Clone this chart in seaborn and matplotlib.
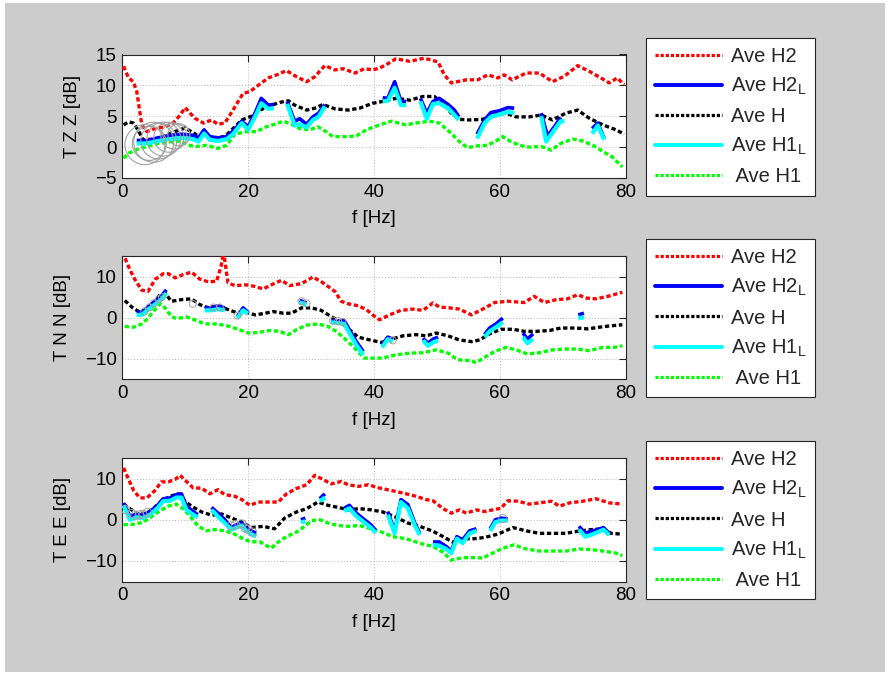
import numpy as np
import pandas as pd
import matplotlib
matplotlib.use("Agg")
import matplotlib.pyplot as plt
import seaborn as sns
from matplotlib.lines import Line2D
from matplotlib.patches import Rectangle

# ---------------- data ----------------
F_TICKS = [0, 20, 40, 60, 80]
ZZ_YTICKS = [-5, 0, 5, 10, 15]
NE_YTICKS = [-10, 0, 10]
YLABELS = ["T Z Z [dB]", "T N N [dB]", "T E E [dB]"]
LEGEND_LABELS = ["Ave H2", "Ave H2$_\\mathregular{L}$", "Ave H",
                 "Ave H1$_\\mathregular{L}$", " Ave H1"]

# ---- panel 1 : ZZ ----
ZZ_H2_F = [0.2, 1.0, 1.75, 2.3, 3.1, 3.9, 5.2, 6.8, 8.1, 9.2, 10.0, 11.5, 12.9, 14.2, 15.2, 16.3,
           17.6, 19.2, 20.3, 21.6, 23.2, 24.8, 26.1, 27.7, 29.3, 30.6, 31.4, 32.2, 33.8, 35.1, 37.0,
           38.5, 39.8, 40.9, 42.2, 43.5, 45.7, 48.0, 50.2, 51.2, 52.3, 54.7, 56.5, 58.1, 59.7, 60.7,
           62.0, 64.2, 66.3, 68.4, 70.3, 72.4, 74.2, 76.1, 77.4, 78.7, 79.8]
ZZ_H2_DB = [13.1, 11.2, 10.6, 9.0, 3.6, 2.5, 3.0, 3.3, 3.9, 5.2, 6.4, 4.7, 3.9, 4.4, 3.7, 3.9,
            6.0, 8.7, 9.0, 10.0, 11.2, 11.8, 12.4, 11.4, 10.6, 11.4, 12.3, 13.2, 12.5, 12.7, 12.0,
            12.7, 12.5, 12.8, 13.5, 14.3, 13.9, 14.4, 13.8, 11.7, 10.4, 10.9, 10.9, 11.7, 11.2, 11.7,
            10.9, 12.0, 12.0, 10.6, 11.5, 13.2, 12.3, 11.2, 10.4, 11.2, 10.1]
ZZ_H_F = [0.2, 1.0, 1.75, 2.5, 3.3, 5.0, 6.5, 8.0, 10.0, 11.8, 13.1, 14.7, 16.3, 17.4, 19.0, 20.5,
          21.9, 23.7, 25.3, 26.4, 27.4, 29.3, 30.6, 31.9, 33.8, 35.9, 37.7, 39.8, 41.4, 43.5, 45.7,
          47.8, 49.6, 51.0, 52.3, 53.6, 55.2, 57.3, 59.2, 61.0, 62.6, 64.7, 66.6, 68.4, 70.5, 72.4,
          74.2, 76.4, 78.5, 79.8]
ZZ_H_DB = [3.6, 4.1, 3.9, 2.8, 1.2, 1.3, 1.7, 2.4, 3.1, 2.0, 2.0, 1.5, 1.7, 2.8, 4.4, 5.0,
           6.0, 6.8, 7.3, 7.5, 6.8, 6.0, 6.3, 6.9, 6.2, 6.0, 6.3, 7.1, 7.4, 7.9, 7.6,
           8.2, 8.2, 7.1, 5.5, 4.5, 4.4, 4.5, 5.2, 5.5, 4.9, 4.9, 5.2, 4.4, 5.5, 6.0,
           4.7, 3.6, 2.8, 2.1]
ZZ_H1_F = [0.2, 1.0, 2.0, 3.6, 5.7, 7.8, 9.2, 10.5, 11.8, 13.4, 15.2, 16.6, 17.9, 19.7, 21.3, 22.9,
           24.2, 25.6, 26.9, 28.2, 29.8, 31.1, 32.4, 33.5, 35.3, 37.2, 38.8, 40.9, 42.8, 45.1, 46.7,
           48.8, 50.4, 52.0, 53.6, 54.9, 56.3, 58.1, 59.4, 60.5, 61.8, 63.1, 64.7, 66.6, 68.2, 69.7,
           71.6, 73.2, 74.8, 76.4, 77.9, 79.5]
ZZ_H1_DB = [-1.8, -1.0, -0.5, 0.0, 0.6, 0.9, 1.0, 0.3, 0.1, 0.3, -0.2, 0.3, 2.1, 2.5, 2.5, 3.3,
            3.7, 4.2, 3.7, 3.0, 2.8, 3.3, 2.5, 1.7, 1.7, 1.8, 2.8, 3.6, 4.2, 3.6, 3.9,
            4.2, 3.9, 2.5, 0.9, -0.1, 0.2, 0.3, 1.0, 1.7, 0.9, 0.3, 0.0, 0.1, -0.5, 0.6,
            1.3, 1.0, 0.3, -0.7, -1.6, -3.2]
ZZ_H2L_SEGS = [
    ([2.3, 3.9, 5.7, 7.6, 9.4, 11.3, 12.1, 13.0, 13.9, 15.2, 16.6, 17.6, 19.0, 20.0, 21.1, 22.1, 23.2, 24.1],
     [1.1, 1.0, 1.5, 1.9, 2.1, 1.9, 1.5, 2.8, 1.7, 1.5, 1.7, 2.6, 4.2, 3.3, 5.5, 7.9, 6.8, 6.9]),
    ([26.2, 27.4, 28.2, 29.3, 30.3, 31.2, 32.2], [7.4, 4.2, 4.6, 3.7, 4.9, 5.5, 6.9]),
    ([41.4, 42.2, 43.3, 44.3, 45.1], [8.0, 7.9, 10.6, 7.4, 7.4]),
    ([47.4, 48.4, 49.4, 50.4, 51.8, 52.8, 53.5], [7.9, 5.5, 7.4, 7.9, 6.9, 6.0, 4.9]),
    ([56.4, 57.6, 58.6, 60.0, 61.3, 62.3], [2.1, 4.4, 5.6, 5.9, 6.4, 6.3]),
    ([66.6, 67.6, 68.7, 69.7], [5.5, 1.8, 3.3, 4.8]),
    ([74.7, 75.6, 76.6], [3.0, 3.9, 1.4]),
]
ZZ_H1L_SEGS = [
    ([2.3, 3.9, 5.7, 7.6, 9.4, 11.3, 12.1, 13.0, 13.9, 15.2, 16.6, 17.6, 19.0, 20.0, 21.1, 22.1, 23.2, 24.1],
     [0.6, 0.6, 1.0, 1.3, 1.5, 1.3, 0.9, 2.2, 1.2, 1.0, 1.3, 2.1, 3.9, 2.8, 4.9, 7.1, 6.2, 6.3]),
    ([26.2, 27.4, 28.2, 29.3, 30.3, 31.2, 32.2], [7.0, 3.5, 3.7, 3.2, 4.4, 4.9, 6.6]),
    ([41.4, 42.2, 43.3, 44.3, 45.1], [7.4, 7.5, 9.6, 6.8, 6.8]),
    ([47.4, 48.4, 49.4, 50.4, 51.8, 52.8, 53.5], [7.4, 4.6, 7.0, 7.1, 6.3, 5.2, 4.4]),
    ([56.4, 57.6, 58.6, 60.0, 61.3, 62.3], [1.4, 3.9, 4.9, 5.3, 5.7, 5.5]),
    ([66.6, 67.4, 68.7, 69.7, 70.3], [5.0, 0.9, 2.8, 4.2, 4.2]),
    ([74.7, 75.6, 76.6], [2.2, 3.5, 1.2]),
]
ZZ_CIRC_F = [3.6, 4.3, 5.0, 5.8, 6.6, 7.4, 8.2, 9.0]
ZZ_CIRC_DB = [0.4, 0.6, 0.8, 1.0, 1.3, 1.6, 1.8, 2.0]
ZZ_CIRC_D = [40, 34, 40, 36, 34, 30, 26, 22]  # marker diameters (px)

# ---- panel 2 : NN ----
NN_H2_F = [0.0, 0.4, 1.2, 2.0, 3.1, 4.1, 5.2, 6.5, 7.3, 8.4, 9.7, 11.0, 12.3, 13.7, 15.0, 15.7, 16.1,
           16.8, 17.9, 19.7, 21.1, 22.4, 23.7, 25.3, 26.6, 28.5, 30.3, 31.9, 33.8, 34.8, 35.9, 37.5,
           38.8, 39.8, 40.9, 42.5, 44.3, 46.2, 47.8, 49.4, 50.4, 52.0, 53.6, 55.5, 57.3, 59.2, 61.3,
           63.9, 65.5, 67.1, 69.0, 70.8, 72.4, 73.7, 75.3, 77.2, 79.5]
NN_H2_DB = [16.0, 14.6, 11.7, 9.3, 6.7, 6.4, 9.3, 10.7, 10.7, 9.7, 10.5, 11.1, 9.4, 8.7, 8.9, 12.5, 16.0,
            8.5, 7.8, 8.0, 7.6, 7.0, 8.0, 9.1, 7.8, 8.3, 9.9, 8.5, 6.4, 4.0, 3.4, 2.9,
            2.0, 0.7, -0.5, 0.7, 1.8, 2.1, 1.8, 3.6, 2.6, 2.4, 2.1, 0.7, 2.1, 3.7, 4.0,
            3.7, 5.2, 3.7, 4.4, 4.6, 5.6, 4.8, 4.6, 5.2, 6.2]
NN_H_F = [0.4, 1.5, 2.8, 3.9, 5.0, 6.0, 6.8, 7.8, 9.4, 11.0, 12.3, 13.7, 15.2, 16.8, 18.4, 19.7,
          21.1, 22.4, 24.0, 25.6, 26.9, 28.5, 30.1, 31.6, 33.2, 34.8, 36.1, 37.5, 38.8, 41.2, 42.8,
          44.6, 46.7, 48.3, 49.9, 51.8, 53.6, 55.5, 56.8, 58.4, 60.2, 62.1, 63.9, 65.8, 67.9, 69.7,
          72.1, 74.0, 75.8, 77.4, 79.5]
NN_H_DB = [4.2, 2.6, 1.3, 2.1, 3.7, 5.6, 6.0, 4.0, 4.4, 4.6, 3.2, 2.4, 2.9, 2.0, 1.1, 1.3,
           0.7, 1.0, 1.5, 1.1, 1.1, 2.4, 2.4, 1.8, 0.3, -1.1, -2.9, -4.7, -5.2, -6.0, -5.2,
           -4.4, -4.1, -4.4, -3.7, -4.4, -5.4, -5.8, -5.4, -3.9, -2.8, -2.8, -3.3, -3.3, -3.1, -2.5,
           -2.5, -2.7, -2.3, -2.0, -1.7]
NN_H1_F = [0.4, 1.8, 3.1, 4.1, 5.2, 6.0, 6.8, 7.8, 8.6, 10.2, 11.5, 13.1, 15.0, 16.8, 18.4, 20.0,
           21.6, 23.4, 25.0, 26.4, 27.7, 29.3, 31.1, 32.7, 34.0, 35.3, 36.7, 37.7, 38.5, 39.8, 41.4,
           43.5, 45.7, 47.8, 49.9, 51.8, 53.3, 55.2, 56.3, 57.6, 59.2, 61.0, 62.6, 64.4, 66.3, 68.4,
           70.5, 72.4, 74.2, 76.4, 78.2, 79.5]
NN_H1_DB = [-2.1, -2.3, -1.5, -0.1, 2.0, 3.4, 2.4, 0.3, -0.2, 0.2, -0.5, -1.5, -1.5, -2.0, -2.8, -3.7,
            -3.6, -3.1, -3.3, -4.1, -2.9, -1.8, -1.5, -2.1, -3.3, -5.0, -7.0, -8.6, -9.8, -9.8, -9.8,
            -9.0, -8.6, -8.5, -7.8, -8.6, -10.2, -10.4, -10.9, -9.6, -8.2, -7.2, -7.8, -8.8, -8.5, -7.8,
            -7.6, -7.6, -8.0, -7.2, -7.2, -6.8]
NN_H2L_SEGS = [
    ([2.3, 3.1, 4.1, 5.2, 6.3, 7.0], [1.5, 1.3, 2.6, 4.0, 5.4, 6.8]),
    ([13.1, 14.2, 15.2, 16.3], [2.4, 2.4, 2.9, 2.4]),
    ([18.3, 19.2, 20.0], [0.3, 2.4, 1.3]),
    ([28.2, 29.3], [4.2, 3.6]),
    ([33.2, 34.3, 35.3, 36.1, 37.2, 38.3], [-0.7, -0.9, -0.7, -2.9, -5.8, -8.2]),
    ([41.3, 42.2, 43.0], [-6.6, -4.7, -5.2]),
    ([47.8, 48.6, 49.4, 50.2], [-5.0, -6.2, -5.2, -4.7]),
    ([57.6, 58.4, 59.4, 60.5], [-4.1, -2.5, -1.5, -0.1]),
    ([63.7, 64.4, 65.3], [-3.7, -5.2, -3.9]),
    ([72.5, 73.4], [0.7, 1.1]),
]
NN_H1L_SEGS = [
    ([2.3, 3.1, 4.1, 5.2, 6.3, 7.0], [0.7, 0.7, 2.0, 3.2, 4.6, 6.0]),
    ([13.1, 14.2, 15.2, 16.3], [1.8, 1.8, 2.1, 1.8]),
    ([18.3, 19.2, 20.0], [-0.1, 1.8, 1.0]),
    ([28.2, 29.3], [3.7, 3.2]),
    ([33.2, 34.3, 35.3, 36.1, 37.2, 38.3], [-1.1, -1.3, -1.5, -3.7, -6.6, -9.0]),
    ([41.3, 42.2, 43.0], [-7.2, -5.2, -5.8]),
    ([47.8, 48.6, 49.4, 50.2], [-5.5, -6.8, -6.0, -5.5]),
    ([57.6, 58.4, 59.4, 60.5], [-4.7, -3.3, -2.3, -1.1]),
    ([63.7, 64.4, 65.3], [-4.7, -6.2, -5.2]),
    ([72.5, 73.4], [-0.1, 0.1]),
]
NN_CIRC_F = [3.5, 4.3, 5.0, 5.8, 6.3, 11.2, 14.5, 15.5, 18.3, 28.5, 29.3, 33.5, 34.3, 35.0, 43.0]
NN_CIRC_DB = [1.5, 2.5, 3.5, 4.5, 5.0, 3.4, 2.5, 2.5, 0.5, 4.0, 3.5, -0.7, -0.8, -1.0, -5.5]

# ---- panel 3 : EE ----
EE_H2_F = [0.2, 1.0, 1.8, 2.8, 3.9, 5.2, 6.2, 7.3, 8.4, 9.2, 10.2, 11.3, 12.6, 13.9, 15.2, 16.3,
           17.9, 19.0, 20.3, 21.6, 23.2, 24.8, 26.1, 27.7, 29.3, 30.6, 31.9, 33.2, 34.8, 35.9, 37.5,
           39.1, 40.9, 42.8, 44.6, 46.7, 48.3, 49.4, 51.0, 52.3, 53.6, 54.7, 56.3, 57.6, 58.9, 60.2,
           61.3, 62.9, 64.7, 66.3, 68.2, 69.5, 71.1, 73.2, 75.3, 77.4, 79.5]
EE_H2_DB = [12.6, 9.8, 7.1, 5.3, 5.3, 7.1, 9.2, 9.2, 9.8, 10.8, 9.3, 7.7, 7.7, 6.3, 7.3, 6.1,
            5.7, 4.9, 3.5, 4.3, 4.3, 4.3, 6.3, 7.6, 8.5, 10.8, 9.8, 8.7, 9.3, 8.5, 8.1,
            8.5, 7.7, 7.1, 6.5, 5.7, 4.9, 4.6, 2.7, 1.6, 2.4, 1.6, 2.4, 2.0, 2.4, 2.8,
            4.6, 4.5, 3.8, 4.1, 4.5, 3.3, 4.1, 4.5, 5.1, 4.1, 3.8]
EE_H_F = [0.2, 1.2, 2.5, 3.9, 4.9, 6.2, 7.6, 8.9, 9.9, 11.0, 12.6, 14.2, 15.8, 17.4, 19.0, 20.5,
          22.4, 24.2, 25.8, 27.7, 29.3, 31.1, 32.7, 34.3, 35.9, 37.7, 39.6, 41.4, 43.5, 45.4, 47.3,
          49.4, 51.0, 52.5, 54.4, 56.0, 57.6, 59.7, 62.1, 64.2, 66.3, 68.4, 70.5, 72.4, 74.5, 76.4,
          77.7, 79.5]
EE_H_DB = [3.8, 2.7, 1.4, 1.6, 2.7, 4.5, 5.7, 6.3, 4.6, 3.3, 1.9, 1.1, 1.4, 0.4, -0.6, -1.9,
           -1.6, -2.2, 0.4, 1.9, 2.7, 4.3, 3.5, 3.0, 2.4, 2.7, 2.4, 1.9, 0.6, -0.8, -1.6,
           -2.8, -4.1, -5.4, -4.6, -4.6, -4.3, -3.5, -1.9, -2.7, -3.3, -3.3, -3.3, -2.8, -2.4, -2.2,
           -3.3, -3.5]
EE_H1_F = [0.2, 1.8, 3.3, 4.7, 6.0, 7.3, 8.6, 9.9, 11.0, 12.1, 13.4, 14.7, 16.3, 17.6, 19.2, 20.3,
           21.9, 23.7, 24.8, 26.1, 27.7, 29.0, 30.1, 31.4, 32.7, 34.3, 35.9, 37.7, 39.6, 40.9, 43.0,
           45.1, 47.3, 49.4, 51.0, 52.3, 54.1, 56.0, 57.3, 58.9, 60.5, 62.3, 64.2, 66.3, 68.4, 70.5,
           72.7, 74.8, 76.4, 78.5, 79.5]
EE_H1_DB = [-1.2, -1.1, -0.6, 0.8, 2.2, 3.3, 3.8, 2.4, 0.4, -1.6, -2.7, -2.4, -2.7, -3.3, -4.6, -5.3,
            -5.4, -6.9, -5.4, -4.1, -3.0, -1.6, -0.2, 0.0, -0.8, -1.4, -1.6, -1.4, -2.2, -2.8, -4.1,
            -4.6, -5.7, -6.5, -7.9, -9.8, -9.2, -9.2, -9.3, -8.1, -6.9, -6.1, -7.1, -7.6, -7.6, -7.6,
            -7.1, -7.3, -7.6, -8.1, -8.7]
EE_H2L_SEGS = [
    ([0.2, 1.2, 2.3, 3.3, 4.4, 5.5, 6.5, 7.6, 8.6, 9.4, 10.2, 11.1, 12.0],
     [4.1, 0.8, 1.4, 1.1, 2.0, 3.3, 5.1, 5.3, 6.1, 6.3, 3.3, 2.2, 1.2]),
    ([14.2, 15.2, 16.3, 17.3, 18.2, 19.0, 19.7, 20.5, 21.3],
     [3.0, 1.6, 0.0, -1.9, -1.2, -0.8, -1.9, -2.7, -3.3]),
    ([28.4, 29.1], [0.0, 0.4]),
    ([31.4, 32.2], [5.1, 6.3]),
    ([35.3, 36.1, 37.2, 38.5, 39.5, 40.3], [2.8, 3.5, 1.6, 0.0, -1.2, -2.6]),
    ([42.2, 43.3, 44.3, 45.4, 46.5, 47.3], [2.0, -2.8, 4.9, 3.7, -0.8, -3.3]),
    ([49.4, 50.4, 51.5, 52.3, 53.2, 54.1, 55.2, 56.3], [-5.4, -5.4, -6.5, -7.6, -4.1, -4.9, -2.7, -2.2]),
    ([58.5, 59.3, 60.2, 61.3], [-2.2, 0.0, 0.4, 0.2]),
    ([72.6, 73.6, 74.5, 75.6, 76.5, 77.4], [-1.6, -3.3, -2.8, -2.4, -1.9, -3.3]),
]
EE_H1L_SEGS = [
    ([0.2, 1.2, 2.3, 3.3, 4.4, 5.5, 6.5, 7.6, 8.6, 9.4, 10.2, 11.1, 12.0],
     [3.5, 0.0, 0.6, 0.4, 1.2, 2.7, 4.5, 4.6, 5.4, 5.4, 2.4, 1.4, 0.6]),
    ([14.2, 15.2, 16.3, 17.3, 18.2, 19.0, 19.7, 20.5, 21.3],
     [2.4, 0.8, -0.8, -2.4, -1.9, -1.4, -2.7, -3.5, -4.1]),
    ([28.4, 29.1], [-0.6, -0.4]),
    ([31.4, 32.2], [4.5, 5.4]),
    ([35.3, 36.1, 37.2, 38.5, 39.5, 40.3], [2.1, 2.8, 0.9, -0.7, -1.9, -3.2]),
    ([42.2, 43.3, 44.3, 45.4, 46.5, 47.3], [1.2, -3.3, 4.3, 2.8, -1.4, -3.7]),
    ([49.4, 50.4, 51.5, 52.3, 53.2, 54.1, 55.2, 56.3], [-6.1, -6.3, -7.1, -8.1, -4.6, -5.7, -3.3, -2.7]),
    ([58.5, 59.3, 60.2, 61.3], [-2.7, -0.6, -0.2, -0.2]),
    ([72.6, 73.6, 74.5, 75.6, 76.5, 77.4], [-2.4, -4.1, -3.7, -3.0, -2.4, -3.7]),
]
EE_CIRC_F = [0.5, 1.5, 2.0, 2.7, 3.3, 4.0, 17.3, 18.0, 19.0, 19.5, 20.0, 20.7, 60.5]
EE_CIRC_DB = [2.5, 1.5, 1.0, 1.2, 1.3, 1.8, -1.5, -1.2, -1.0, -2.0, -2.3, -3.0, 0.3]

# ---------------- styling ----------------
sns.set_theme(style="white")
plt.rcParams['font.family'] = ['Liberation Sans', 'DejaVu Sans']
plt.rcParams['mathtext.fontset'] = 'custom'
plt.rcParams['mathtext.rm'] = 'Liberation Sans'
plt.rcParams['mathtext.it'] = 'Liberation Sans:italic'

RED, BLUE, BLACK, CYAN, GREEN = "#ff0000", "#0000ff", "#000000", "#00ffff", "#00ff00"
DOT = (0, (1.3, 0.8))
FS = 13.5
LFS = 14.5

W, H = 890, 675
fig = plt.figure(figsize=(W / 100, H / 100), dpi=100, facecolor="white")
fig.patches.append(Rectangle((5 / W, 3 / H), 880 / W, 669 / H, transform=fig.transFigure,
                             facecolor="#cccccc", edgecolor="none", zorder=-10))

AX_L, AX_W = 122.3 / W, (625.5 - 122.3) / W
panel_tops = [54.5, 256.0, 458.0]
AX_HPX = 123.5


def dotted(ax, f, v, color):
    sns.lineplot(x=f, y=v, ax=ax, color=color, lw=2.4, linestyle=DOT, sort=False,
                 estimator=None, legend=False, zorder=3)


def segments(ax, segs, color, lw, z):
    for f, v in segs:
        sns.lineplot(x=f, y=v, ax=ax, color=color, lw=lw, sort=False, estimator=None,
                     legend=False, zorder=z, solid_capstyle="butt")


panels = [
    (ZZ_H2_F, ZZ_H2_DB, ZZ_H_F, ZZ_H_DB, ZZ_H1_F, ZZ_H1_DB, ZZ_H2L_SEGS, ZZ_H1L_SEGS, (-5, 15), ZZ_YTICKS),
    (NN_H2_F, NN_H2_DB, NN_H_F, NN_H_DB, NN_H1_F, NN_H1_DB, NN_H2L_SEGS, NN_H1L_SEGS, (-15, 15), NE_YTICKS),
    (EE_H2_F, EE_H2_DB, EE_H_F, EE_H_DB, EE_H1_F, EE_H1_DB, EE_H2L_SEGS, EE_H1L_SEGS, (-15, 15), NE_YTICKS),
]

for i, (h2f, h2v, hf, hv, h1f, h1v, h2l, h1l, ylim, yt) in enumerate(panels):
    top = panel_tops[i]
    ax = fig.add_axes([AX_L, 1 - (top + AX_HPX) / H, AX_W, AX_HPX / H])
    ax.set_facecolor("white")

    # grey circle markers
    if i == 0:
        sns.scatterplot(x=ZZ_CIRC_F, y=ZZ_CIRC_DB, ax=ax, s=[(d * 0.72) ** 2 for d in ZZ_CIRC_D],
                        facecolors="none", edgecolor="#a0a0a0", linewidth=0.8, zorder=6, legend=False)
    elif i == 1:
        sns.scatterplot(x=NN_CIRC_F, y=NN_CIRC_DB, ax=ax, s=25, facecolors="none",
                        edgecolor="#a0a0a0", linewidth=0.7, zorder=6, legend=False)
    else:
        sns.scatterplot(x=EE_CIRC_F, y=EE_CIRC_DB, ax=ax, s=35, facecolors="none",
                        edgecolor="#a0a0a0", linewidth=0.7, zorder=6, legend=False)

    dotted(ax, h2f, h2v, RED)
    dotted(ax, hf, hv, BLACK)
    dotted(ax, h1f, h1v, GREEN)
    segments(ax, h2l, BLUE, 2.6, 4)
    segments(ax, h1l, CYAN, 3.0, 5)

    ax.set_xlim(0, 80)
    ax.set_ylim(*ylim)
    ax.set_xticks(F_TICKS)
    ax.set_yticks(yt)
    ax.grid(True, color="#b8b8b8", linestyle=(0, (1, 2)), linewidth=0.7)
    ax.tick_params(direction="in", length=5, width=0.8, top=True, right=True,
                   labelsize=FS, colors="#262626", labelcolor="black", pad=4)
    for sp in ax.spines.values():
        sp.set_color("#262626")
        sp.set_linewidth(0.8)
    ax.set_xlabel("f [Hz]", fontsize=FS, color="black", labelpad=7)
    ax.set_ylabel(YLABELS[i], fontsize=FS, color="black", labelpad=10)

    handles = [
        Line2D([], [], color=RED, lw=2.3, linestyle=(0, (1.0, 0.6))),
        Line2D([], [], color=BLUE, lw=2.8),
        Line2D([], [], color=BLACK, lw=2.3, linestyle=(0, (1.0, 0.6))),
        Line2D([], [], color=CYAN, lw=2.8),
        Line2D([], [], color=GREEN, lw=2.3, linestyle=(0, (1.0, 0.6))),
    ]
    leg = ax.legend(handles, LEGEND_LABELS, loc="upper left",
                    bbox_to_anchor=(646 / W, 1 - (top - 17) / H), bbox_transform=fig.transFigure,
                    fontsize=LFS, frameon=True, fancybox=False, framealpha=1, edgecolor="#262626",
                    handlelength=3.3, handletextpad=0.45, labelspacing=0.5, borderpad=0.45,
                    borderaxespad=0)
    leg.get_frame().set_linewidth(0.8)

fig.savefig("out.png", dpi=100, facecolor=fig.get_facecolor())
